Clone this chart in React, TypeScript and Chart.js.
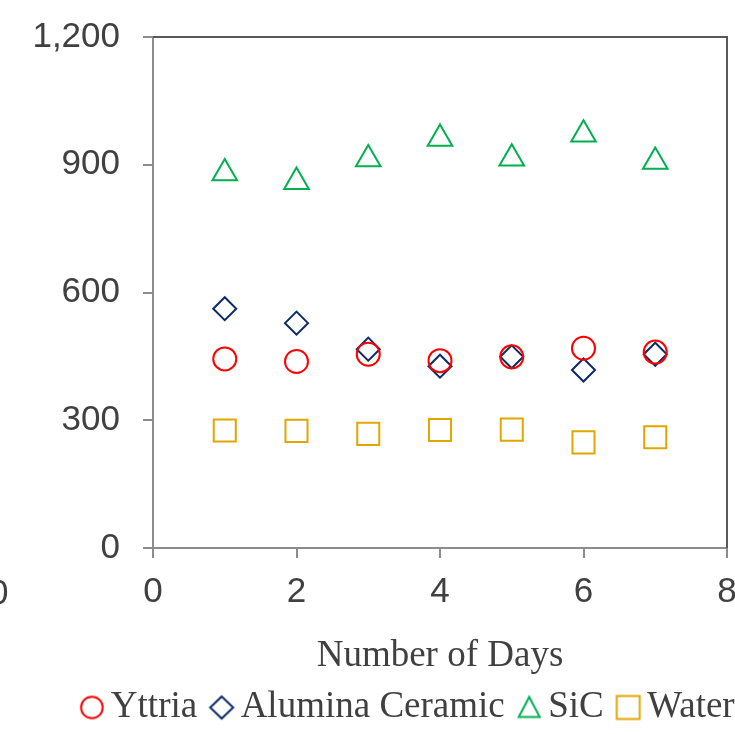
import React, { useEffect, useRef } from "react";
import { Chart, registerables } from "chart.js";

Chart.register(...registerables);

const days = [1, 2, 3, 4, 5, 6, 7];
const yttria = [444, 438, 455, 440, 449, 469, 460];
const alumina = [562, 528, 467, 427, 449, 418, 455];
const sic = [880, 860, 913, 961, 915, 971, 907];
const water = [276, 275, 268, 277, 278, 248, 260];

const seriesNames = ["Yttria", "Alumina Ceramic", "SiC", "Water"];
const seriesColors = ["#FF0000", "#0B2A66", "#00B050", "#E2A600"];
const seriesStyles = ["circle", "rectRot", "triangle", "rect"];
const seriesRadius = [11.5, 11.5, 14.2, 15.6];

const xTitle = "Number of Days";

const SANS = '"Liberation Sans", Arial, sans-serif';
const SERIF = '"Liberation Serif", "Times New Roman", serif';
const TEXT = "#404040";
const AXIS = "#8C8C8C";

function makeMarker(kind: string, color: string): HTMLCanvasElement {
  const c = document.createElement("canvas");
  c.width = 28;
  c.height = 28;
  const g = c.getContext("2d")!;
  g.strokeStyle = color;
  g.lineWidth = 2;
  g.beginPath();
  const m = 14;
  if (kind === "circle") {
    g.arc(m, m, 10.8, 0, Math.PI * 2);
  } else if (kind === "rectRot") {
    g.moveTo(m, m - 11);
    g.lineTo(m + 11.5, m);
    g.lineTo(m, m + 11);
    g.lineTo(m - 11.5, m);
    g.closePath();
  } else if (kind === "triangle") {
    g.moveTo(m, m - 10.5);
    g.lineTo(m + 10.5, m + 9.5);
    g.lineTo(m - 10.5, m + 9.5);
    g.closePath();
  } else {
    g.rect(m - 11.5, m - 11.5, 23, 23);
  }
  g.stroke();
  return c;
}

const framePlugin = {
  id: "frame",
  afterDraw(chart: any) {
    const { ctx, chartArea } = chart;
    const { left, top, right, bottom } = chartArea;
    ctx.save();
    ctx.strokeStyle = "#595959";
    ctx.lineWidth = 2;
    ctx.beginPath();
    ctx.moveTo(left, top);
    ctx.lineTo(right, top);
    ctx.lineTo(right, bottom);
    ctx.stroke();
    ctx.restore();
  },
};

export default function App() {
  const ref = useRef<HTMLCanvasElement | null>(null);

  useEffect(() => {
    if (!ref.current) return;
    const allSeries = [yttria, alumina, sic, water];
    const markers = seriesStyles.map((s, i) => makeMarker(s, seriesColors[i]));
    const chart = new Chart(ref.current, {
      type: "scatter",
      data: {
        datasets: allSeries.map((vals, i) => ({
          label: seriesNames[i],
          data: days.map((d, j) => ({ x: d, y: vals[j] })),
          pointStyle: seriesStyles[i] as any,
          pointRadius: seriesRadius[i],
          pointHoverRadius: seriesRadius[i],
          borderColor: seriesColors[i],
          backgroundColor: "rgba(0,0,0,0)",
          pointBorderWidth: 2,
          borderWidth: 2,
          showLine: false,
        })),
      },
      options: {
        responsive: false,
        animation: false,
        devicePixelRatio: 1,
        layout: { padding: { top: 37, left: 0, right: 0, bottom: -2 } },
        scales: {
          x: {
            type: "linear",
            position: "bottom",
            min: 0,
            max: 8,
            afterFit: (s: any) => {
              s.height = 117;
            },
            ticks: {
              stepSize: 2,
              padding: 13,
              color: TEXT,
              font: { family: SANS, size: 35 },
            },
            grid: {
              drawOnChartArea: false,
              drawTicks: true,
              tickLength: 10,
              color: AXIS,
              lineWidth: 2,
            },
            border: { display: true, color: AXIS, width: 2 },
            title: {
              display: true,
              text: xTitle,
              color: TEXT,
              font: { family: SERIF, size: 37 },
              padding: { top: 17, bottom: -13 },
            },
          },
          y: {
            type: "linear",
            position: "left",
            min: 0,
            max: 1200,
            afterFit: (s: any) => {
              s.width = 153;
              s.paddingTop = 0;
              s.paddingBottom = 0;
            },
            ticks: {
              stepSize: 300,
              padding: 23,
              color: TEXT,
              font: { family: SANS, size: 35 },
            },
            grid: {
              drawOnChartArea: false,
              drawTicks: true,
              tickLength: 10,
              color: AXIS,
              lineWidth: 2,
            },
            border: { display: true, color: AXIS, width: 2 },
          },
          y2: {
            type: "linear",
            position: "right",
            min: 0,
            max: 1,
            afterFit: (s: any) => {
              s.width = 99;
              s.paddingTop = 0;
              s.paddingBottom = 0;
            },
            ticks: { display: false },
            grid: { display: false, drawTicks: false },
            border: { display: false },
          },
        },
        plugins: {
          tooltip: { enabled: false },
          legend: {
            display: true,
            position: "bottom",
            labels: {
              usePointStyle: true,
              boxWidth: 1,
              boxHeight: 15,
              padding: 24,
              color: TEXT,
              font: { family: SERIF, size: 37 },
              generateLabels: (ch: any) => {
                const items = (Chart.defaults.plugins.legend.labels as any).generateLabels(ch);
                return items.map((it: any, i: number) => ({ ...it, pointStyle: markers[i] }));
              },
            },
          },
        },
      },
      plugins: [framePlugin],
    });
    return () => chart.destroy();
  }, []);

  return (
    <div
      style={{
        position: "fixed",
        left: 0,
        top: 0,
        width: 735,
        height: 734,
        overflow: "hidden",
        background: "#fff",
      }}
    >
      <span
        style={{
          position: "absolute",
          left: -11,
          top: 571,
          fontFamily: SANS,
          fontSize: 35,
          lineHeight: "42px",
          color: TEXT,
        }}
      >
        0
      </span>
      <canvas
        ref={ref}
        width={826}
        height={734}
        style={{ display: "block", width: 826, height: 734 }}
      />
    </div>
  );
}
